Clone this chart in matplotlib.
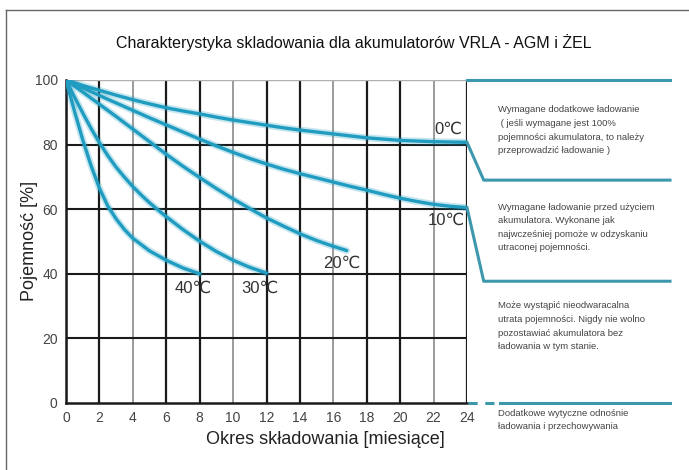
import matplotlib
matplotlib.use("Agg")
import matplotlib.pyplot as plt
from matplotlib.lines import Line2D

plt.rcParams['font.family'] = ['Liberation Sans', 'DejaVu Sans']

# ---- data ----
title = "Charakterystyka skladowania dla akumulatorów VRLA - AGM i ŻEL"
xlabel = "Okres składowania [miesiące]"
ylabel = "Pojemność [%]"

m_0C = [0, 1, 2, 3, 4, 5, 6, 7, 8, 9, 10, 11, 12, 13, 14, 15, 16, 17, 18, 19, 20, 21, 22, 23, 24]
v_0C = [100, 98.3, 96.8, 95.3, 93.9, 92.6, 91.4, 90.4, 89.5, 88.5, 87.6, 86.8, 86.0, 85.2, 84.5,
        83.9, 83.3, 82.7, 82.1, 81.7, 81.3, 81.1, 80.9, 80.8, 80.7]
m_10C = [0, 1, 2, 3, 4, 5, 6, 7, 8, 9, 10, 11, 12, 13, 14, 15, 16, 17, 18, 19, 20, 21, 22, 23, 24]
v_10C = [100, 97.6, 95.2, 92.9, 90.6, 88.3, 86.1, 83.9, 81.7, 79.6, 77.6, 75.7, 74.0, 72.4, 71.0,
         69.7, 68.4, 67.1, 65.9, 64.6, 63.4, 62.4, 61.5, 60.9, 60.5]
m_20C = [0, 1, 2, 3, 4, 5, 6, 7, 8, 9, 10, 11, 12, 13, 14, 15, 16, 16.8]
v_20C = [100, 96.3, 92.5, 88.7, 84.8, 80.9, 77.0, 73.3, 69.8, 66.4, 63.2, 60.2, 57.3, 54.8, 52.4,
         50.3, 48.5, 47.2]
m_30C = [0, 0.5, 1, 1.5, 2, 2.5, 3, 3.5, 4, 4.5, 5, 5.5, 6, 7, 8, 9, 10, 11, 12]
v_30C = [100, 94.8, 89.8, 85.0, 80.6, 76.6, 73.0, 69.9, 67.0, 64.4, 62.0, 59.8, 57.7, 53.7, 50.1,
         46.9, 44.2, 42.0, 40.2]
m_40C = [0, 0.5, 1, 1.5, 2, 2.5, 3, 3.5, 4, 5, 6, 7, 8]
v_40C = [100, 90.5, 81.5, 73.5, 66.5, 61.0, 57.0, 53.7, 51.0, 47.1, 44.2, 41.8, 40.0]

curve_labels = ["0℃", "10℃", "20℃", "30℃", "40℃"]

x_ticks = list(range(0, 25, 2))
y_ticks = [0, 20, 40, 60, 80, 100]

note1 = ["Wymagane dodatkowe ładowanie", " ( jeśli wymagane jest 100%",
         "pojemności akumulatora, to należy", "przeprowadzić ładowanie )"]
note2 = ["Wymagane ładowanie przed użyciem", "akumulatora. Wykonane jak",
         "najwcześniej pomoże w odzyskaniu", "utraconej pojemności."]
note3 = ["Może wystąpić nieodwaracalna", "utrata pojemności. Nigdy nie wolno",
         "pozostawiać akumulatora bez", "ładowania w tym stanie."]
note4 = ["Dodatkowe wytyczne odnośnie", "ładowania i przechowywania"]

# boundary levels (right side)
b_top = 100
b_0C_end = 80.7
b_0C_low = 69.0
b_10C_end = 60.5
b_10C_low = 37.7
b_zero = 0

# ---- figure ----
W, H = 689, 470
fig = plt.figure(figsize=(W / 100, H / 100), dpi=100)
fig.patch.set_facecolor("white")

ax = fig.add_axes([66 / W, (H - 403) / H, 401 / W, 323 / H])
ax.set_xlim(0, 24)
ax.set_ylim(0, 100)

# grid
thin_x = [4, 10, 16, 22]
for x in x_ticks:
    if x in thin_x:
        ax.axvline(x, color="#808080", lw=1.1, zorder=1)
    else:
        ax.axvline(x, color="#1a1a1a", lw=1.6, zorder=1)
for y in [20, 40, 60, 80]:
    ax.axhline(y, color="#1a1a1a", lw=1.5, zorder=1)
ax.axhline(100, color="#b0b0b0", lw=1.0, zorder=1)

for s in ["top", "right"]:
    ax.spines[s].set_visible(False)
for s in ["left", "bottom"]:
    ax.spines[s].set_linewidth(1.8)
    ax.spines[s].set_color("#1a1a1a")

ax.set_xticks(x_ticks)
ax.set_yticks(y_ticks)
ax.tick_params(length=0, labelsize=10, labelcolor="#444444", pad=6)

curve_color = "#1f9cc0"
for mx, vy in [(m_0C, v_0C), (m_10C, v_10C), (m_20C, v_20C), (m_30C, v_30C), (m_40C, v_40C)]:
    ax.plot(mx, vy, color=curve_color, lw=5, alpha=0.25, solid_capstyle="round",
            solid_joinstyle="round", zorder=3)
    ax.plot(mx, vy, color=curve_color, lw=2.4, solid_capstyle="round",
            solid_joinstyle="round", zorder=4)

lab_kw = dict(fontsize=12, color="#333333", zorder=5)
ax.text(23.7, 84.6, curve_labels[0], ha="right", va="center", **lab_kw)
ax.text(23.9, 56.5, curve_labels[1], ha="right", va="center", **lab_kw)
ax.text(17.6, 43.2, curve_labels[2], ha="right", va="center", **lab_kw)
ax.text(12.7, 35.4, curve_labels[3], ha="right", va="center", **lab_kw)
ax.text(8.7, 35.4, curve_labels[4], ha="right", va="center", **lab_kw)

# right-side boundary lines
bc = "#3d98ad"
xr = 36.15
xk = 25.0
kw = dict(color=bc, lw=2.2, clip_on=False, zorder=4)
ax.plot([24, xr], [b_top, b_top], **kw)
ax.plot([24, xk, xr], [b_0C_end, b_0C_low, b_0C_low], **kw)
ax.plot([24, xk, xr], [b_10C_end, b_10C_low, b_10C_low], **kw)
ax.plot([24.05, 25.8], [b_zero, b_zero], color=bc, lw=2.2, ls=(0, (3, 2.5)), clip_on=False, zorder=4)
ax.plot([26.0, xr], [b_zero, b_zero], **kw)

note_kw = dict(fontsize=6.8, color="#444444", va="center", ha="left")
for lines, y0 in [(note1, 110), (note2, 207), (note3, 306), (note4, 413)]:
    for i, ln in enumerate(lines):
        fig.text(498 / W, 1 - (y0 + i * 13.6) / H, ln, **note_kw)

# labels
fig.text(354 / W, 1 - 43 / H, title, ha="center", va="center", fontsize=11.5, color="#111111")
fig.text(325 / W, 1 - 440 / H, xlabel, ha="center", va="center", fontsize=13, color="#222222")
fig.text(30 / W, 1 - 241 / H, ylabel, ha="center", va="center", rotation=90, fontsize=13, color="#222222")

# frame
fig.add_artist(Line2D([6 / W, 1.0], [1 - 10 / H, 1 - 10 / H], transform=fig.transFigure, color="#666666", lw=1.0))
fig.add_artist(Line2D([6 / W, 6 / W], [0, 1 - 10 / H], transform=fig.transFigure, color="#666666", lw=1.0))

fig.savefig("out.png", dpi=100, facecolor="white")
